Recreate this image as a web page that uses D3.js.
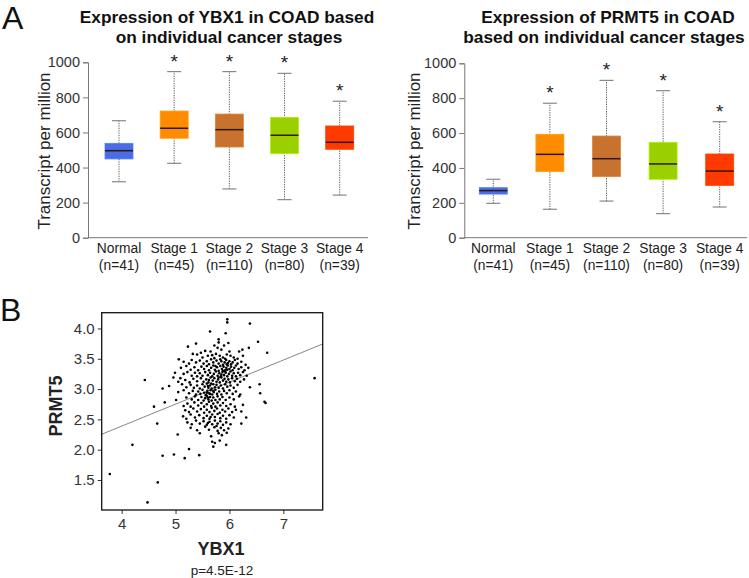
<!DOCTYPE html>
<html><head><meta charset="utf-8">
<script src="https://cdn.jsdelivr.net/npm/d3@7"></script>
<style>body{margin:0;background:#fff}svg{display:block;font-family:"Liberation Sans",Arial,sans-serif}</style>
</head><body><svg id="c" width="749" height="578"></svg>
<script>
// ---- Data ----
const stages = ["Normal","Stage 1","Stage 2","Stage 3","Stage 4"];
const stageN = ["(n=41)","(n=45)","(n=110)","(n=80)","(n=39)"];
const stageColors = ["#4a6de5","#ff8c00","#c8722f","#9bd000","#ff3a00"];
const boxTicks = [0,200,400,600,800,1000];
// [min, q1, median, q3, max]
const ybx1Stats = [[319,449,496,538,667],[424,567,624,722,947],[278,517,616,705,947],[217,479,584,686,937],[243,504,544,637,778]];
const prmt5Stats = [[197,250,270,287,335],[163,379,478,593,771],[210,350,453,583,902],[138,335,423,547,843],[176,300,382,480,665]];
const ybx1Signif = [false,true,true,true,true];
const prmt5Signif = [false,true,true,true,true];

const scatterXTicks = [4,5,6,7];
const scatterYTicks = [1.5,2.0,2.5,3.0,3.5,4.0];
const regLine = [[3.63,2.254],[7.73,3.744]];
// scatter points: [YBX1, PRMT5]
const scatterPts = [
[5.96,4.15],[5.96,4.10],[6.38,4.08],[5.64,3.95],[5.93,3.92],[5.80,3.82],
[5.38,3.75],[5.80,3.77],[5.98,3.76],[6.53,3.78],[5.23,3.70],[6.36,3.68],[5.72,3.72],[5.90,3.72],
[5.55,3.63],[5.65,3.62],[5.85,3.65],[6.00,3.62],[6.18,3.62],[6.70,3.60],[5.78,3.68],[5.47,3.60],[6.24,3.65],
[5.06,3.49],[5.32,3.58],[5.40,3.57],[5.50,3.52],[5.60,3.55],[5.68,3.56],[5.75,3.58],[5.82,3.55],[5.88,3.52],[5.95,3.57],[6.02,3.55],[6.08,3.52],[6.15,3.50],[6.25,3.55],[5.72,3.51],[5.92,3.50],
[5.15,3.45],[5.25,3.42],[5.30,3.48],[5.38,3.44],[5.45,3.47],[5.52,3.42],[5.58,3.46],[5.62,3.41],[5.70,3.44],[5.76,3.47],[5.80,3.42],[5.85,3.46],[5.88,3.40],[5.91,3.44],[5.94,3.48],[5.97,3.43],[6.00,3.46],[6.03,3.41],[6.06,3.44],[6.10,3.48],[6.15,3.42],[6.22,3.45],[6.30,3.40],[5.83,3.49],[5.66,3.49],[5.95,3.41],
[5.10,3.35],[5.20,3.38],[5.28,3.32],[5.35,3.36],[5.42,3.31],[5.48,3.37],[5.53,3.33],[5.58,3.38],[5.62,3.31],[5.66,3.35],[5.70,3.39],[5.73,3.32],[5.77,3.36],[5.80,3.30],[5.83,3.38],[5.86,3.33],[5.89,3.37],[5.92,3.31],[5.94,3.35],[5.97,3.39],[6.00,3.33],[6.03,3.37],[6.06,3.31],[6.09,3.35],[6.12,3.39],[6.17,3.33],[6.22,3.36],[6.28,3.31],[6.35,3.35],[5.88,3.30],[5.96,3.32],[5.74,3.38],
[4.96,3.19],[4.99,3.27],[5.09,3.18],[5.15,3.25],[5.22,3.28],[5.30,3.22],[5.36,3.27],[5.40,3.21],[5.45,3.26],[5.50,3.22],[5.55,3.28],[5.60,3.23],[5.64,3.27],[5.68,3.21],[5.71,3.25],[5.75,3.29],[5.78,3.22],[5.81,3.26],[5.84,3.21],[5.87,3.28],[5.90,3.23],[5.93,3.27],[5.96,3.21],[5.99,3.25],[6.02,3.29],[6.05,3.22],[6.08,3.26],[6.12,3.21],[6.16,3.27],[6.20,3.23],[6.25,3.28],[6.32,3.22],[5.85,3.24],[5.92,3.29],
[4.43,3.15],[5.05,3.12],[5.18,3.15],[5.26,3.11],[5.33,3.17],[5.40,3.13],[5.47,3.18],[5.52,3.12],[5.57,3.16],[5.61,3.11],[5.65,3.19],[5.69,3.14],[5.72,3.18],[5.76,3.12],[5.79,3.16],[5.82,3.11],[5.85,3.19],[5.88,3.14],[5.91,3.17],[5.94,3.12],[5.98,3.16],[6.01,3.11],[6.05,3.18],[6.10,3.13],[6.14,3.17],[6.20,3.12],[6.27,3.16],[7.58,3.18],[5.62,3.15],[5.80,3.19],
[4.76,3.01],[4.88,3.05],[5.12,3.08],[5.20,3.03],[5.28,3.07],[5.34,3.02],[5.40,3.06],[5.45,3.01],[5.50,3.08],[5.54,3.04],[5.58,3.09],[5.61,3.02],[5.64,3.06],[5.67,3.01],[5.70,3.08],[5.73,3.03],[5.76,3.07],[5.80,3.02],[5.84,3.06],[5.88,3.01],[5.92,3.08],[5.96,3.04],[6.02,3.06],[6.08,3.02],[6.15,3.07],[6.38,3.03],[6.56,3.08],[5.60,3.05],[5.66,3.09],
[5.05,2.95],[5.15,2.98],[5.25,2.93],[5.32,2.97],[5.38,2.91],[5.42,2.96],[5.46,2.92],[5.50,2.99],[5.53,2.94],[5.56,2.90],[5.59,2.97],[5.62,2.93],[5.65,2.98],[5.68,2.91],[5.71,2.95],[5.74,2.99],[5.77,2.92],[5.81,2.96],[5.85,2.91],[5.90,2.97],[5.95,2.93],[6.00,2.98],[6.06,2.92],[6.12,2.96],[6.20,2.91],[6.57,2.93],[5.58,2.94],[5.64,2.92],[5.70,2.97],
[4.80,2.78],[5.01,2.82],[5.20,2.86],[5.30,2.83],[5.36,2.88],[5.42,2.82],[5.48,2.87],[5.52,2.81],[5.55,2.85],[5.58,2.89],[5.61,2.83],[5.64,2.87],[5.67,2.81],[5.70,2.86],[5.74,2.82],[5.78,2.88],[5.82,2.83],[5.87,2.87],[5.93,2.82],[6.00,2.86],[6.08,2.83],[6.18,2.88],[6.65,2.79],[6.67,2.77],[5.60,2.86],
[4.60,2.71],[5.15,2.72],[5.22,2.76],[5.28,2.71],[5.35,2.78],[5.42,2.73],[5.48,2.77],[5.53,2.71],[5.58,2.75],[5.62,2.79],[5.66,2.72],[5.70,2.76],[5.74,2.71],[5.78,2.78],[5.83,2.73],[5.88,2.77],[5.94,2.72],[6.02,2.75],[6.10,2.71],[6.25,2.74],
[5.18,2.65],[5.25,2.62],[5.33,2.68],[5.40,2.63],[5.47,2.67],[5.53,2.61],[5.58,2.66],[5.63,2.62],[5.67,2.69],[5.72,2.64],[5.77,2.68],[5.82,2.61],[5.87,2.66],[5.92,2.63],[5.98,2.68],[6.05,2.62],[6.12,2.66],[6.22,2.63],
[5.14,2.55],[5.20,2.51],[5.28,2.58],[5.36,2.53],[5.44,2.57],[5.52,2.52],[5.58,2.56],[5.63,2.51],[5.68,2.58],[5.73,2.54],[5.78,2.59],[5.83,2.52],[5.88,2.56],[5.94,2.51],[6.00,2.57],[6.08,2.53],[6.31,2.53],[5.65,2.54],
[4.66,2.43],[5.22,2.45],[5.30,2.42],[5.38,2.48],[5.45,2.43],[5.52,2.47],[5.58,2.41],[5.63,2.46],[5.68,2.42],[5.73,2.48],[5.78,2.43],[5.83,2.47],[5.88,2.41],[5.94,2.45],[6.02,2.42],[6.22,2.43],[5.60,2.44],
[5.28,2.36],[5.40,2.32],[5.55,2.38],[5.62,2.33],[5.72,2.37],[5.78,2.31],[5.84,2.36],[5.90,2.32],[5.98,2.35],[5.76,2.39],
[5.04,2.25],[5.45,2.27],[5.66,2.22],[5.80,2.27],[5.86,2.24],[5.95,2.28],
[5.68,2.13],[5.82,2.15],[5.73,2.11],
[4.20,2.08],[5.25,2.01],[5.70,2.05],[5.94,2.08],
[4.76,1.90],[4.97,1.92],[5.44,1.91],[5.17,1.86],
[3.78,1.60],[4.67,1.46],[4.48,1.13]
];

const svg = d3.select("#c");

// panel letters
svg.append("text").attr("x",2).attr("y",29).attr("font-size",32).attr("fill","#111").text("A");
svg.append("text").attr("x",0).attr("y",321).attr("font-size",32).attr("fill","#111").text("B");

function boxPanel(o){
  const g = svg.append("g");
  const y = d3.scaleLinear().domain([0,1000]).range([237.7, o.top]);
  const x = d3.scalePoint().domain(stages).range(o.xr);
  // titles
  o.title.forEach((t,i)=>{
    g.append("text").attr("x",t.cx).attr("y",22.5+i*20).attr("text-anchor","middle")
     .attr("font-size",17.3).attr("font-weight","bold").attr("fill","#111").text(t.s);
  });
  // y axis
  const ya = g.append("g").attr("transform",`translate(${o.ax},0)`)
    .call(d3.axisLeft(y).tickValues(boxTicks).tickSize(5).tickPadding(3).tickFormat(d3.format("d")));
  ya.select(".domain").attr("stroke","#777");
  ya.selectAll(".tick line").attr("stroke","#777");
  ya.selectAll("text").attr("font-size",14.5).attr("fill","#333").attr("font-family","Liberation Sans, Arial");
  g.append("line").attr("x1",o.ax).attr("x2",o.xend).attr("y1",y(0)).attr("y2",y(0)).attr("stroke","#777");
  g.append("text").attr("transform",`translate(${o.tx},151) rotate(-90)`).attr("text-anchor","middle")
    .attr("font-size",17).attr("fill","#222").text("Transcript per million");
  const bw = 28;
  o.stats.forEach((s,i)=>{
    const cx = x(stages[i]);
    g.append("line").attr("x1",cx).attr("x2",cx).attr("y1",y(s[0])).attr("y2",y(s[4]))
      .attr("stroke","#555").attr("stroke-dasharray","1.2,1.2");
    [s[0],s[4]].forEach(v=>g.append("line").attr("x1",cx-7).attr("x2",cx+7).attr("y1",y(v)).attr("y2",y(v)).attr("stroke","#888").attr("stroke-width",1.2));
    g.append("rect").attr("x",cx-bw/2).attr("width",bw).attr("y",y(s[3])).attr("height",y(s[1])-y(s[3]))
      .attr("fill",stageColors[i]).attr("stroke",d3.color(stageColors[i]).brighter(0.4)).attr("stroke-width",0.8);
    g.append("line").attr("x1",cx-bw/2).attr("x2",cx+bw/2).attr("y1",y(s[2])).attr("y2",y(s[2])).attr("stroke","#2a1a10").attr("stroke-width",1.5);
    if(o.sig[i]) g.append("text").attr("x",cx).attr("y",y(s[4])-4).attr("text-anchor","middle").attr("font-size",19).attr("fill","#222").text("*");
    g.append("text").attr("x",cx).attr("y",253).attr("text-anchor","middle").attr("font-size",13.8).attr("fill","#222").text(stages[i]);
    g.append("text").attr("x",cx).attr("y",270).attr("text-anchor","middle").attr("font-size",13.8).attr("fill","#222").text(stageN[i]);
  });
}

boxPanel({top:62.3, xr:[119,339.7], ax:88, xend:368, tx:50, stats:ybx1Stats, sig:ybx1Signif,
  title:[{cx:227,s:"Expression of YBX1 in COAD based"},{cx:229,s:"on individual cancer stages"}]});
boxPanel({top:63.3, xr:[493.3,719.7], ax:464.3, xend:747, tx:420, stats:prmt5Stats, sig:prmt5Signif,
  title:[{cx:608,s:"Expression of PRMT5 in COAD"},{cx:604,s:"based on individual cancer stages"}]});

// scatter
const L=101.7,R=322.7,T=312.7,B=510;
const sx = d3.scaleLinear().domain([3.63,7.73]).range([L,R]);
const sy = d3.scaleLinear().domain([1.005,4.26]).range([B,T]);
const sg = svg.append("g");
const xa = sg.append("g").attr("transform",`translate(0,${B})`).call(d3.axisBottom(sx).tickValues(scatterXTicks).tickSize(4).tickPadding(4).tickFormat(d3.format("d")));
const yaS = sg.append("g").attr("transform",`translate(${L},0)`).call(d3.axisLeft(sy).tickValues(scatterYTicks).tickSize(4).tickPadding(3).tickFormat(d3.format(".1f")));
[xa,yaS].forEach(a=>{a.select(".domain").remove();a.selectAll(".tick line").attr("stroke","#333");
  a.selectAll("text").attr("font-size",15).attr("fill","#333").attr("font-family","Liberation Sans, Arial");});
sg.append("line").attr("x1",sx(regLine[0][0])).attr("y1",sy(regLine[0][1])).attr("x2",sx(regLine[1][0])).attr("y2",sy(regLine[1][1]))
  .attr("stroke","#888").attr("stroke-width",1);
sg.selectAll("circle").data(scatterPts).join("circle").attr("cx",d=>sx(d[0])).attr("cy",d=>sy(d[1])).attr("r",1.3).attr("fill","#000");
sg.append("rect").attr("x",L).attr("y",T).attr("width",R-L).attr("height",B-T).attr("fill","none").attr("stroke","#111").attr("stroke-width",1.3);
sg.append("text").attr("transform",`translate(62,406) rotate(-90)`).attr("text-anchor","middle").attr("font-size",18).attr("font-weight","bold").attr("fill","#222").text("PRMT5");
sg.append("text").attr("x",221).attr("y",555).attr("text-anchor","middle").attr("font-size",18).attr("font-weight","bold").attr("fill","#222").text("YBX1");
sg.append("text").attr("x",222).attr("y",575).attr("text-anchor","middle").attr("font-size",13.5).attr("fill","#222").text("p=4.5E-12");
</script></body></html>
